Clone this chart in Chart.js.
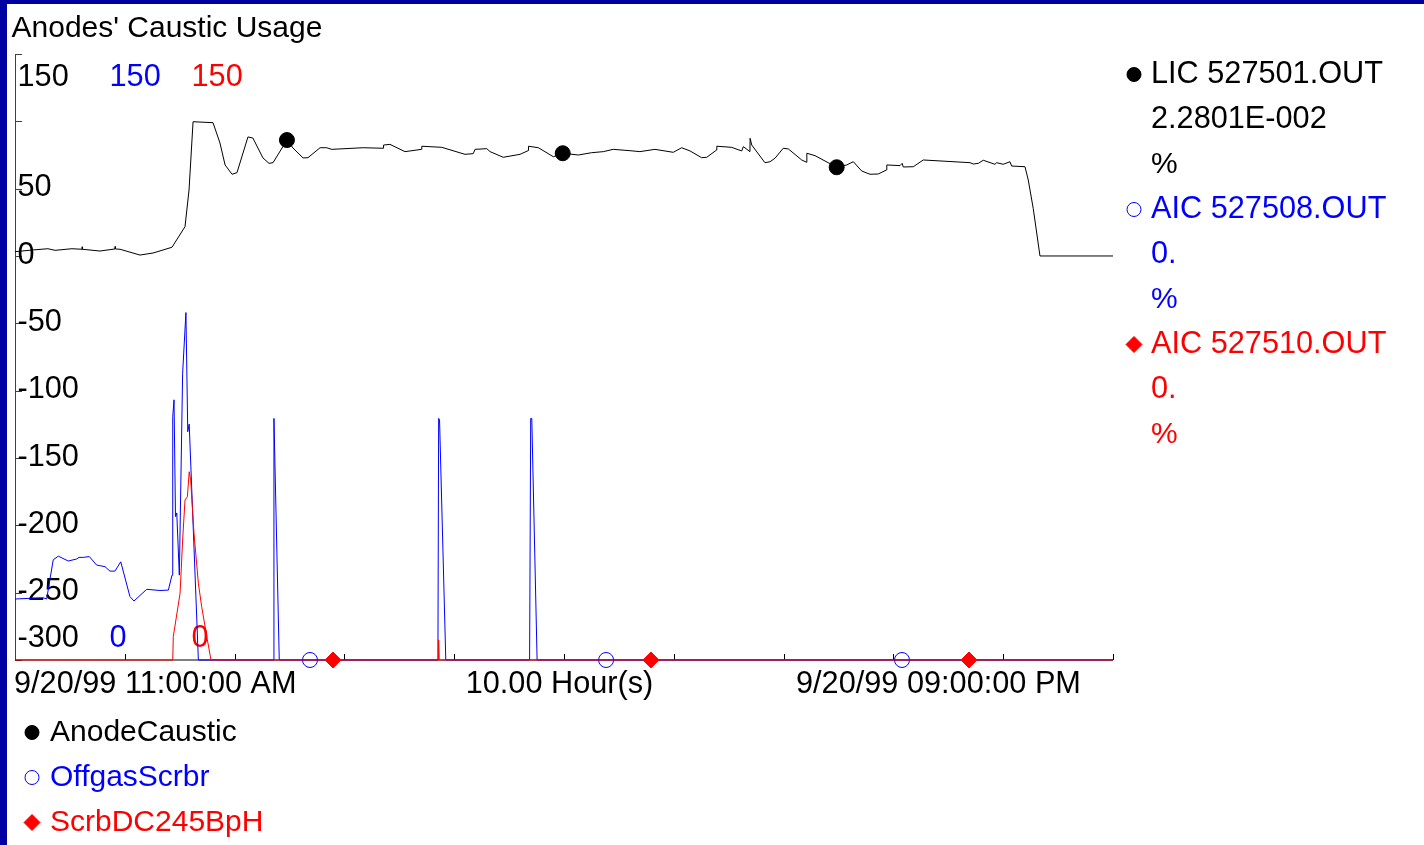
<!DOCTYPE html>
<html>
<head>
<meta charset="utf-8">
<script src="https://cdn.jsdelivr.net/npm/chart.js@4.4.1/dist/chart.umd.min.js"></script>
<style>
html,body{margin:0;padding:0;background:#fff;overflow:hidden}
#wrap{position:relative;width:1424px;height:845px}
canvas{display:block}
</style>
</head>
<body>
<div id="wrap"><canvas id="c" width="1424" height="845"></canvas></div>
<script>
// ---------- text ----------
const chartTitle = "Anodes' Caustic Usage";
const seriesNames = ['AnodeCaustic', 'OffgasScrbr', 'ScrbDC245BpH'];
const tagNames = ['LIC 527501.OUT', 'AIC 527508.OUT', 'AIC 527510.OUT'];
const currentValues = ['2.2801E-002', '0.', '0.'];
const unitLabels = ['%', '%', '%'];
const xAxisLabels = ['9/20/99 11:00:00 AM', '10.00 Hour(s)', '9/20/99 09:00:00 PM'];

// ---------- axes (x in minutes after 11:00 AM) ----------
const xMin = 0, xMax = 600;
const xTicks = [60, 120, 180, 240, 300, 360, 420, 480, 540, 600];
const yTicksBlack = [150, 100, 50, 0, -50, -100, -150, -200, -250, -300];
const yTickLabelsBlack = ['150', '', '50', '0', '-50', '-100', '-150', '-200', '-250', '-300'];
const yTicksBlue = [150, 0];
const yTickLabelsBlue = ['150', '0'];
const yTicksRed = [150, 0];
const yTickLabelsRed = ['150', '0'];

// ---------- series: LIC 527501.OUT (AnodeCaustic) ----------
const blackTimes = [0, 9.8, 18.0, 21.9, 31.1, 36.6, 36.7, 36.9, 46.4, 54.6, 54.7, 54.9, 57.4, 68.3, 75.4, 85.8, 92.9, 95.1, 97.3, 108.2,
  112.0, 114.8, 118.6, 121.3, 127.3, 130.0, 135.5, 138.8, 141.0, 148.6, 151.9, 157.4, 160.1, 166.7, 170.3, 173.1, 190.3, 201.3, 201.4, 204.9,
  213.1, 222.2, 222.3, 233.2, 245.9, 250.4, 251.4, 257.8, 259.6, 266.8, 276.0, 280.5, 280.6, 286.0, 294.2, 299.3, 307.8, 315.1, 321.5, 326.9,
  336.1, 341.5, 349.7, 359.7, 364.3, 368.9, 375.2, 378.0, 383.4, 383.5, 391.6, 397.1, 398.0, 401.6, 401.7, 402.6, 409.8, 412.6, 415.3, 419.8,
  422.6, 429.9, 432.6, 432.7, 437.2, 449.0, 454.5, 458.1, 462.7, 467.2, 471.7, 476.3, 476.4, 483.6, 484.8, 485.4, 490.9, 496.3, 521.9, 523.7,
  526.4, 529.1, 535.5, 536.4, 540.0, 543.7, 544.6, 551.9, 553.7, 556.4, 560.1, 600];
const blackValues = [3.2, 4.5, 5.4, 4.2, 5.4, 5.0, 6.8, 5.0, 3.7, 5.2, 7.0, 5.2, 5.0, 0.7, 2.2, 6.5, 21.8, 49.0, 99.7, 99.0,
  83.9, 67.6, 60.7, 61.9, 88.4, 87.6, 72.8, 68.8, 69.3, 86.1, 80.2, 72.8, 73.0, 80.4, 80.4, 79.2, 80.4, 80.0, 82.4, 82.9,
  77.5, 79.2, 81.5, 80.7, 75.5, 76.0, 79.2, 79.7, 77.5, 73.3, 75.5, 78.3, 81.5, 80.4, 73.7, 76.3, 75.0, 76.7, 77.5, 79.2,
  78.2, 77.5, 79.2, 77.0, 80.4, 78.0, 73.0, 73.3, 78.7, 81.5, 80.7, 78.0, 81.2, 77.5, 87.4, 82.4, 69.3, 70.0, 72.6, 80.0,
  79.5, 71.3, 69.6, 76.3, 74.5, 65.9, 67.6, 70.0, 63.1, 60.7, 60.9, 63.9, 67.6, 67.1, 68.8, 66.1, 66.3, 71.3, 69.3, 68.3,
  68.8, 71.1, 68.1, 69.3, 68.1, 70.0, 66.8, 66.3, 56.4, 35.4, 0.02, 0.02];
const blackMarkerTimes = [148.6, 299.3, 449.0];

// ---------- series: AIC 527508.OUT (OffgasScrbr) ----------
const blueTimes = [0, 15.5, 17.3, 20.9, 23.7, 29.1, 33.7, 35.0, 37.3, 40.6, 44.6, 49.2, 51.9, 54.6, 57.8, 62.8, 65.0, 72.0, 79.2, 83.8,
  85.8, 86.2, 86.9, 87.7, 88.4, 89.8, 91.6, 93.4, 94.4, 95.2, 100.2, 141.2, 141.5, 144.4, 161.2, 231.1, 231.5, 232.0, 235.4, 281.2,
  281.8, 282.4, 285.3, 323.0, 484.7, 600];
const blueValues = [15.1, 15.4, 15.1, 24.8, 25.7, 24.5, 25.0, 25.4, 25.4, 25.6, 23.5, 23.1, 22.0, 22.0, 24.3, 15.7, 14.6, 17.5, 17.2, 17.3,
  21.0, 60.2, 64.4, 35.5, 36.4, 21.0, 71.0, 86.0, 56.5, 58.4, 0, 0, 59.8, 0, 0, 0, 59.8, 59.4, 0, 0,
  59.8, 59.8, 0, 0, 0, 0];
const blueMarkerTimes = [161.2, 323.0, 484.7];

// ---------- series: AIC 527510.OUT (ScrbDC245BpH) ----------
const redTimes = [0, 86.2, 86.5, 90.2, 91.6, 92.9, 94.2, 95.2, 96.0, 97.8, 100.2, 102.0, 104.8, 107.1, 173.8, 231.2, 231.5, 231.8, 347.5, 521.3, 600];
const redValues = [0, 0, 5.8, 16.5, 29.7, 39.6, 40.4, 46.6, 44.6, 31.4, 19.0, 13.2, 5.8, 0, 0, 0, 5.0, 0, 0, 0, 0];
const redMarkerTimes = [173.8, 347.5, 521.3];

// ---------- helpers ----------
const FONT = '30px "Liberation Sans", Arial, sans-serif';
const NUM_FONT = '30.7px "Liberation Sans", Arial, sans-serif';
const BLACK = '#000000', BLUE = '#0000ff', RED = '#ff0000', NAVY = '#0000a0';
const zip = (xs, ys) => xs.map((x, i) => ({x: x, y: ys[i]}));
const markerRadius = (list, r) => (c) => (c.raw && list.includes(c.raw.x)) ? r : 0;

function drawMarker(ctx, style, x, y, r, color) {
  ctx.save();
  ctx.lineWidth = 1;
  ctx.strokeStyle = color;
  ctx.fillStyle = color;
  ctx.beginPath();
  if (style === 'diamond') {
    ctx.moveTo(x - r, y); ctx.lineTo(x, y - r); ctx.lineTo(x + r, y); ctx.lineTo(x, y + r); ctx.closePath();
    ctx.fill(); ctx.stroke();
  } else if (style === 'ring') {
    ctx.arc(x, y, r, 0, Math.PI * 2); ctx.stroke();
  } else {
    ctx.arc(x, y, r, 0, Math.PI * 2); ctx.fill(); ctx.stroke();
  }
  ctx.restore();
}

const decor = {
  id: 'decor',
  beforeDraw(chart) {
    const ctx = chart.ctx;
    ctx.save();
    ctx.fillStyle = '#ffffff';
    ctx.fillRect(0, 0, chart.width, chart.height);
    ctx.fillStyle = NAVY;
    ctx.fillRect(0, 0, chart.width, 4);
    ctx.fillRect(0, 0, 7, chart.height);
    // title
    ctx.font = FONT;
    ctx.fillStyle = BLACK;
    ctx.textAlign = 'left';
    ctx.textBaseline = 'alphabetic';
    ctx.fillText(chartTitle, 11.5, 37);
    ctx.restore();
  },
  beforeDatasetsDraw(chart) {
    const ctx = chart.ctx, a = chart.chartArea;
    const xs = chart.scales.x, yb = chart.scales.y, yB = chart.scales.yBlue, yR = chart.scales.yRed;
    ctx.save();
    // axis lines
    ctx.lineWidth = 1;
    ctx.strokeStyle = '#404040';
    ctx.beginPath();
    ctx.moveTo(a.left + 0.5, a.top); ctx.lineTo(a.left + 0.5, a.bottom);
    ctx.stroke();
    yTicksBlack.forEach(v => {
      const py = Math.round(yb.getPixelForValue(v)) + 0.5;
      ctx.beginPath(); ctx.moveTo(a.left, py); ctx.lineTo(a.left + 7, py); ctx.stroke();
    });
    ctx.strokeStyle = BLACK;
    ctx.beginPath();
    ctx.moveTo(a.left, a.bottom); ctx.lineTo(a.right, a.bottom);
    ctx.stroke();
    xTicks.forEach(t => {
      const px = Math.round(xs.getPixelForValue(t)) + 0.5;
      ctx.beginPath(); ctx.moveTo(px, a.bottom); ctx.lineTo(px, a.bottom - 6); ctx.stroke();
    });
    // y tick labels (mirrored inside the plot)
    ctx.font = NUM_FONT;
    ctx.textAlign = 'left';
    ctx.textBaseline = 'alphabetic';
    const labelY = (scale, v) => {
      const c = Math.min(Math.max(scale.getPixelForValue(v) - 3, a.top + 21), a.bottom - 24);
      return c + 10.75;
    };
    ctx.fillStyle = BLACK;
    yTicksBlack.forEach((v, i) => { if (yTickLabelsBlack[i]) ctx.fillText(yTickLabelsBlack[i], a.left + 2.5, labelY(yb, v)); });
    ctx.fillStyle = BLUE;
    yTicksBlue.forEach((v, i) => ctx.fillText(yTickLabelsBlue[i], a.left + 94.5, labelY(yB, v)));
    ctx.fillStyle = RED;
    yTicksRed.forEach((v, i) => ctx.fillText(yTickLabelsRed[i], a.left + 176.5, labelY(yR, v)));
    // x labels
    ctx.fillStyle = BLACK;
    ctx.textAlign = 'left';
    ctx.fillText(xAxisLabels[0], a.left - 1, a.bottom + 33);
    ctx.textAlign = 'center';
    ctx.fillText(xAxisLabels[1], 559.5, a.bottom + 33);
    ctx.textAlign = 'left';
    ctx.fillText(xAxisLabels[2], 796, a.bottom + 33);
    ctx.restore();
  },
  afterDraw(chart) {
    const ctx = chart.ctx;
    ctx.save();
    ctx.textAlign = 'left';
    ctx.textBaseline = 'alphabetic';
    const colors = [BLACK, BLUE, RED];
    const styles = ['dot', 'ring', 'diamond'];
    const radii = [7.5, 7.5, 8.5];
    // right legend
    const rx = 1151, baseY = 83, step = 45;
    for (let i = 0; i < 3; i++) {
      const b = baseY + i * 3 * step;
      ctx.fillStyle = colors[i];
      ctx.font = NUM_FONT;
      ctx.fillText(tagNames[i], rx, b);
      ctx.fillText(currentValues[i], rx, b + step);
      ctx.font = FONT;
      ctx.fillText(unitLabels[i], rx, b + 2 * step);
      drawMarker(ctx, styles[i], 1134, b - 8.5, radii[i] - 0.5, colors[i]);
    }
    // bottom legend
    ctx.font = FONT;
    for (let i = 0; i < 3; i++) {
      const b = 741 + i * 45;
      ctx.fillStyle = colors[i];
      ctx.fillText(seriesNames[i], 50, b);
      drawMarker(ctx, styles[i], 32, b - 8.5, radii[i] - 0.5, colors[i]);
    }
    ctx.restore();
  }
};

const common = {borderWidth: 1, tension: 0, fill: false, clip: false, pointHoverRadius: 0, pointBorderWidth: 1};

new Chart(document.getElementById('c').getContext('2d'), {
  type: 'line',
  data: {
    datasets: [
      Object.assign({}, common, {
        label: tagNames[2], data: zip(redTimes, redValues), yAxisID: 'yRed', order: 0,
        borderColor: RED, pointStyle: 'rectRot', pointRadius: markerRadius(redMarkerTimes, 8),
        pointBackgroundColor: RED, pointBorderColor: RED
      }),
      Object.assign({}, common, {
        label: tagNames[1], data: zip(blueTimes, blueValues), yAxisID: 'yBlue', order: 1,
        borderColor: BLUE, pointStyle: 'circle', pointRadius: markerRadius(blueMarkerTimes, 7.5),
        pointBackgroundColor: 'rgba(0,0,0,0)', pointBorderColor: BLUE
      }),
      Object.assign({}, common, {
        label: tagNames[0], data: zip(blackTimes, blackValues), yAxisID: 'y', order: 2,
        borderColor: BLACK, pointStyle: 'circle', pointRadius: markerRadius(blackMarkerTimes, 7.5),
        pointBackgroundColor: BLACK, pointBorderColor: BLACK
      })
    ]
  },
  options: {
    responsive: false,
    animation: false,
    devicePixelRatio: 1,
    events: [],
    layout: {padding: {left: 15, top: 54, right: 311, bottom: 185}},
    scales: {
      x: {type: 'linear', min: xMin, max: xMax, display: false},
      y: {type: 'linear', min: -300, max: 150, display: false},
      yBlue: {type: 'linear', min: 0, max: 150, display: false},
      yRed: {type: 'linear', min: 0, max: 150, display: false}
    },
    plugins: {legend: {display: false}, tooltip: {enabled: false}, title: {display: false}}
  },
  plugins: [decor]
});
</script>
</body>
</html>
